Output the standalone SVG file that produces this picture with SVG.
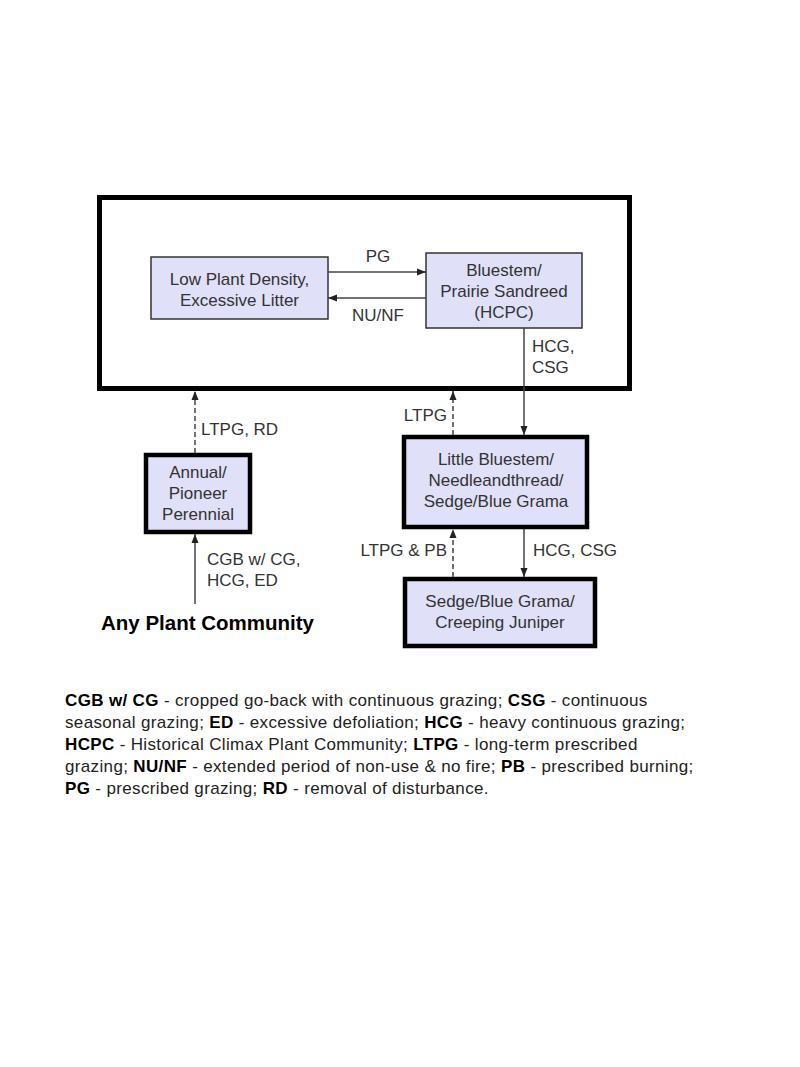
<svg xmlns="http://www.w3.org/2000/svg" width="800" height="1067" viewBox="0 0 800 1067">
<style>
text{font-family:"Liberation Sans",Arial,sans-serif;fill:#333}
.n{font-size:17px;text-anchor:middle}
.l{font-size:17px}
.thin{fill:#e0e0f8;stroke:#333;stroke-width:1.5}
.thick{fill:#e0e0f8;stroke:#000;stroke-width:4.5}
.c{stroke:#444;stroke-width:1.5;fill:none}
.d{stroke:#444;stroke-width:1.5;fill:none;stroke-dasharray:5,3}
.lg{font-size:17px;fill:#222;letter-spacing:0.35px}
.lg tspan.b{font-weight:bold;fill:#000}
</style>
<defs>
<marker id="ah" markerWidth="10" markerHeight="8" refX="9" refY="4" orient="auto" markerUnits="userSpaceOnUse">
<path d="M0,0.5 L9,4 L0,7.5 Z" fill="#222"/>
</marker>
</defs>
<rect width="800" height="1067" fill="#fff"/>
<g id="outer">
<rect x="99.5" y="197.5" width="530" height="191" fill="none" stroke="#000" stroke-width="5"/>
</g>
<g id="low">
<rect class="thin" x="151" y="257" width="177" height="62"/>
<text class="n" x="239.5" y="285">Low Plant Density,</text>
<text class="n" x="239.5" y="306">Excessive Litter</text>
</g>
<g id="bluestem">
<rect class="thin" x="426" y="253" width="156" height="75"/>
<text class="n" x="504" y="276">Bluestem/</text>
<text class="n" x="504" y="297">Prairie Sandreed</text>
<text class="n" x="504" y="318">(HCPC)</text>
</g>
<g id="little">
<rect class="thick" x="404" y="437" width="183" height="90"/>
<text class="n" x="496" y="465">Little Bluestem/</text>
<text class="n" x="496" y="486">Needleandthread/</text>
<text class="n" x="496" y="507">Sedge/Blue Grama</text>
</g>
<g id="annual">
<rect class="thick" x="146" y="455" width="104" height="77"/>
<text class="n" x="198" y="478">Annual/</text>
<text class="n" x="198" y="499">Pioneer</text>
<text class="n" x="198" y="520">Perennial</text>
</g>
<g id="sedge">
<rect class="thick" x="405" y="579" width="190" height="67"/>
<text class="n" x="500" y="607">Sedge/Blue Grama/</text>
<text class="n" x="500" y="628">Creeping Juniper</text>
</g>
<g id="any">
<text x="101" y="630" style="font-size:20.5px;font-weight:bold;fill:#000">Any Plant Community</text>
</g>
<g id="connectors">
<line class="c" x1="328" y1="272" x2="426" y2="272" marker-end="url(#ah)"/>
<line class="c" x1="426" y1="298" x2="328" y2="298" marker-end="url(#ah)"/>
<line class="c" x1="524" y1="328" x2="524" y2="435" marker-end="url(#ah)"/>
<line class="d" x1="453" y1="435" x2="453" y2="391" marker-end="url(#ah)"/>
<line class="d" x1="195" y1="453" x2="195" y2="391" marker-end="url(#ah)"/>
<line class="c" x1="195" y1="604" x2="195" y2="534" marker-end="url(#ah)"/>
<line class="d" x1="453" y1="577" x2="453" y2="529" marker-end="url(#ah)"/>
<line class="c" x1="524" y1="529" x2="524" y2="577" marker-end="url(#ah)"/>
<text class="l" x="378" y="262" text-anchor="middle">PG</text>
<text class="l" x="378" y="321" text-anchor="middle">NU/NF</text>
<text class="l" x="532" y="352">HCG,</text>
<text class="l" x="532" y="373">CSG</text>
<text class="l" x="447" y="421" text-anchor="end">LTPG</text>
<text class="l" x="201" y="435">LTPG, RD</text>
<text class="l" x="207" y="565">CGB w/ CG,</text>
<text class="l" x="207" y="586">HCG, ED</text>
<text class="l" x="447" y="556" text-anchor="end">LTPG &amp; PB</text>
<text class="l" x="533" y="556">HCG, CSG</text>
</g>
<g id="legend">
<text class="lg" x="65" y="706"><tspan class="b">CGB w/ CG</tspan> - cropped go-back with continuous grazing; <tspan class="b">CSG</tspan> - continuous</text>
<text class="lg" x="65" y="728">seasonal grazing; <tspan class="b">ED</tspan> - excessive defoliation; <tspan class="b">HCG</tspan> - heavy continuous grazing;</text>
<text class="lg" x="65" y="750"><tspan class="b">HCPC</tspan> - Historical Climax Plant Community; <tspan class="b">LTPG</tspan> - long-term prescribed</text>
<text class="lg" x="65" y="772">grazing; <tspan class="b">NU/NF</tspan> - extended period of non-use &amp; no fire; <tspan class="b">PB</tspan> - prescribed burning;</text>
<text class="lg" x="65" y="794"><tspan class="b">PG</tspan> - prescribed grazing; <tspan class="b">RD</tspan> - removal of disturbance.</text>
</g>
</svg>
